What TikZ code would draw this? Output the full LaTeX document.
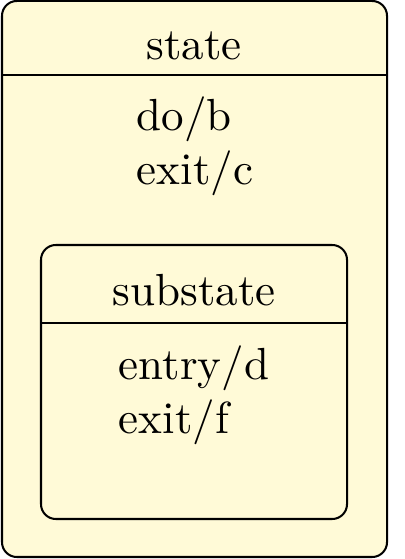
\documentclass[tikz,border=0pt]{standalone}
\definecolor{statefill}{RGB}{255,250,215}
\begin{document}
\begin{tikzpicture}[x=0.2222pt,y=-0.2222pt,
  statebox/.style={draw=black,fill=statefill,line width=0.45pt,rounded corners=3.3pt},
  sep/.style={line width=0.45pt},
  lbl/.style={inner sep=0pt,anchor=base},
  act/.style={inner sep=0pt,anchor=base west}]
\useasboundingbox (0,0) rectangle (404,559);
\draw[statebox] (2,1) rectangle (387,557);
\coordinate (ol) at (2,75); \coordinate (or) at (387,75);
\draw[sep] (ol) -- (or);
\node[lbl] (st) at (194,60) {state};
\node[act] (dob) at (136,131) {do/b};
\node[act] (exc) at (136,185) {exit/c};
\draw[statebox] (41,245) rectangle (347,519);
\coordinate (il) at (41,323); \coordinate (ir) at (347,323);
\draw[sep] (il) -- (ir);
\node[lbl] (sub) at (194,306) {substate};
\node[act] (ent) at (118,380) {entry/d};
\node[act] (exf) at (118,433) {exit/f};
\end{tikzpicture}
\end{document}
